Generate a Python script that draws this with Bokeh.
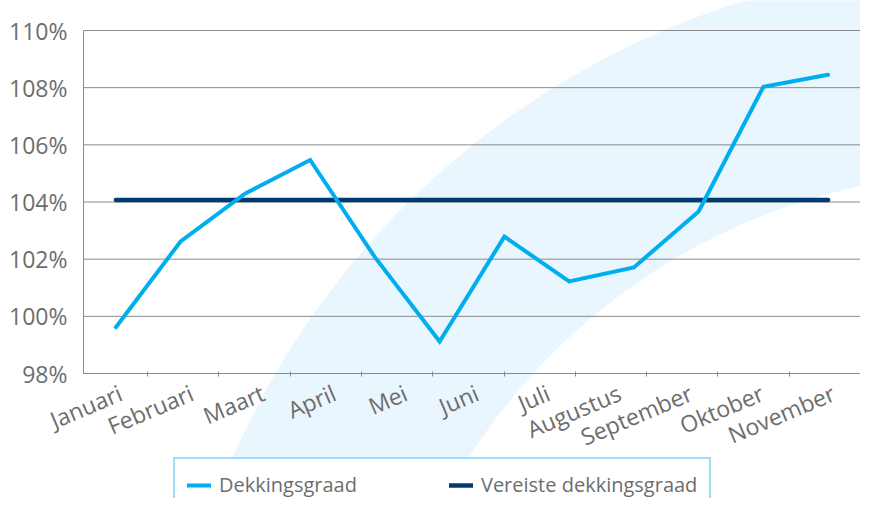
import numpy as np
from bokeh.plotting import figure
from bokeh.models import (Range1d, LinearAxis, FixedTicker, PrintfTickFormatter,
                          Legend, LegendItem, PolyAnnotation)
from bokeh.embed import file_html
from bokeh.resources import INLINE

# ---- data ----
months = ["Januari", "Februari", "Maart", "April", "Mei", "Juni", "Juli",
          "Augustus", "September", "Oktober", "November"]
dekkingsgraad = [99.62, 102.62, 104.30, 105.47, 102.07, 99.12, 102.79,
                 101.22, 101.71, 103.67, 108.03, 108.45]
vereiste = [104.07, 104.07, 104.07, 104.07, 104.07, 104.07, 104.07,
            104.07, 104.07, 104.07, 104.07, 104.07]
y_ticks = [98, 100, 102, 104, 106, 108, 110]
Y_MIN, Y_MAX = 98, 110

GRAY_TXT = "#6d6d6d"
GRID = "#8a8a8a"
CYAN = "#00aeef"
NAVY = "#003a70"

# ---- layout (pixels) ----
W, H = 860, 498
LEFT = 83                  # plot area left edge (pixels)
TOP_PX, BOT_PX = 30, 373   # pixel rows of Y_MAX and Y_MIN
n = len(dekkingsgraad)
ppu_y = (BOT_PX - TOP_PX) / (Y_MAX - Y_MIN)
y_lo = Y_MIN - (H - BOT_PX) / ppu_y
y_hi = Y_MAX + TOP_PX / ppu_y
ppu_x = (W - LEFT) / n
x_lo = -LEFT / ppu_x
M_START = 0.1
mpp = (len(months) - M_START) / (W - LEFT)
m_lo = M_START - LEFT * mpp

x = [i + 0.5 for i in range(n)]

p = figure(width=W, height=H, x_range=Range1d(x_lo, n),
           y_range=Range1d(y_lo, y_hi), x_axis_location=None,
           output_backend="svg", toolbar_location=None,
           min_border_left=0, min_border_right=0, min_border_top=0,
           min_border_bottom=0)
p.outline_line_color = None
p.background_fill_color = "white"
p.border_fill_color = "white"

# decorative background swoosh (annulus band), canvas units
cx, cy, r_in, r_out = 989, 790, 618, 827
ang = np.linspace(np.radians(-178), np.radians(-55), 120)
sx = list(cx + r_out * np.cos(ang)) + list(cx + r_in * np.cos(ang[::-1]))
sy = list(cy + r_out * np.sin(ang)) + list(cy + r_in * np.sin(ang[::-1]))
swoosh = PolyAnnotation(xs=sx, ys=sy, xs_units="canvas", ys_units="canvas",
                        fill_color="#eaf6fd", fill_alpha=1.0, line_color=None,
                        level="image")
p.add_layout(swoosh)

# horizontal gridlines across the plot area only
p.xgrid.visible = False
p.ygrid.visible = False
p.segment(x0=[0] * len(y_ticks), x1=[n] * len(y_ticks), y0=y_ticks, y1=y_ticks,
          line_color=GRID, line_width=1, level="underlay")

# y axis pinned at x = 0
p.yaxis.fixed_location = 0
p.yaxis.ticker = FixedTicker(ticks=y_ticks)
p.yaxis.formatter = PrintfTickFormatter(format="%d%%")
p.yaxis.bounds = (Y_MIN, Y_MAX)
p.yaxis.axis_line_color = GRID
p.yaxis.major_tick_line_color = None
p.yaxis.minor_tick_line_color = None
p.yaxis.major_label_standoff = 10
p.yaxis.major_label_text_font = "Open Sans"
p.yaxis.major_label_text_font_size = "23px"
p.yaxis.major_label_text_color = GRAY_TXT

# x axis (month labels on their own range), pinned at Y_MIN
p.extra_x_ranges = {"months": Range1d(m_lo, len(months))}
xa = LinearAxis(x_range_name="months", fixed_location=Y_MIN,
                bounds=(M_START, len(months)),
                ticker=FixedTicker(ticks=[k + 0.62 for k in range(len(months))],
                                   minor_ticks=[k + 1 for k in range(len(months))]),
                major_label_overrides={k + 0.62: m for k, m in enumerate(months)},
                major_label_orientation=0.40,
                major_tick_line_color=None,
                minor_tick_in=2, minor_tick_out=3,
                minor_tick_line_color=GRID,
                axis_line_color=GRID,
                major_label_standoff=12,
                major_label_text_font="Open Sans",
                major_label_text_font_size="23px",
                major_label_text_color=GRAY_TXT)
p.add_layout(xa, "below")

# lines
r_req = p.line(x, vereiste, line_color=NAVY, line_width=4.5, line_cap="round")
r_dek = p.line(x, dekkingsgraad, line_color=CYAN, line_width=4,
               line_cap="round", line_join="miter")

legend = Legend(items=[LegendItem(label="Dekkingsgraad", renderers=[r_dek]),
                       LegendItem(label="Vereiste dekkingsgraad", renderers=[r_req])],
                orientation="horizontal", location=(173, -14),
                border_line_color="#3dbfef", border_line_width=2,
                background_fill_color="white", background_fill_alpha=1.0,
                padding=12, spacing=92, glyph_width=24, glyph_height=20,
                label_standoff=8, label_text_font="Open Sans",
                label_text_font_size="20px", label_text_color=GRAY_TXT,
                margin=0)
p.add_layout(legend, "center")

open("out.html", "w").write(file_html(p, INLINE))
